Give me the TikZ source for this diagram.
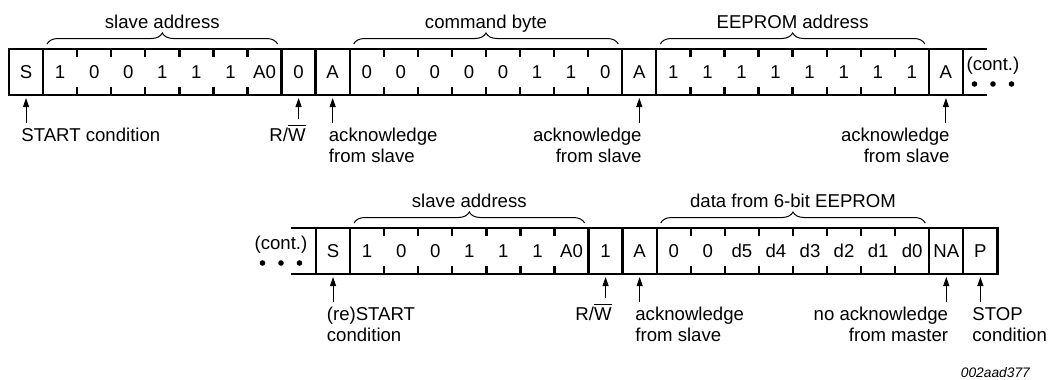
\documentclass[tikz,border=0pt]{standalone}
\usepackage{fontspec}
\setmainfont{Liberation Sans}
\usepackage{tikz}
\usetikzlibrary{arrows.meta,positioning,decorations.pathreplacing,calc}

\begin{document}
\begin{tikzpicture}[x=0.5pt, y=-0.5pt, font=\fontsize{9.3pt}{10.5pt}\selectfont,
    bit/.style={minimum width=17.035pt, minimum height=23pt, inner sep=0pt, outer sep=0pt},
    frame/.style={line width=1.15pt},
    tick/.style={line width=1.15pt},
    brace/.style={decorate, decoration={brace, amplitude=5.5pt}, line width=0.5pt},
    ptr/.style={-{Triangle[length=4.5pt,width=3pt]}, line width=0.5pt, shorten >=1.5pt, shorten <=2.5pt},
    note/.style={inner sep=0pt, align=left}]
    \useasboundingbox (0,0) rectangle (1051,380);

    % Schrittfolge 1: Schreiben
    \foreach \t [count=\k from 0] in {S,1,0,0,1,1,1,A0,0,A,0,0,0,0,0,1,1,0,A,1,1,1,1,1,1,1,1,A}
        \node[bit] (w\k) at ({26.035+34.07*\k}, 72) {\t};
    \draw[frame] ([xshift=12pt]w27.north east) -- (w0.north west) -- (w0.south west) -- ([xshift=12pt]w27.south east);
    \foreach \k in {0,7,8,9,17,18,26,27}
        \draw[frame] (w\k.north east) -- (w\k.south east);
    \foreach \k in {1,2,3,4,5,6,10,11,12,13,14,15,16,19,20,21,22,23,24,25}
        \draw[tick] (w\k.north east) -- ++(0,8) (w\k.south east) -- ++(0,-8);

    % Klammern oben
    \draw[brace] ([xshift=2pt,yshift=2.5pt]w1.north west) -- ([xshift=-2pt,yshift=2.5pt]w7.north east)
        node[midway, anchor=base, yshift=8pt] (hdr_slave1) {slave address};
    \draw[brace] ([xshift=2pt,yshift=2.5pt]w10.north west) -- ([xshift=-2pt,yshift=2.5pt]w17.north east)
        node[midway, anchor=base, yshift=8pt] (hdr_cmd) {command byte};
    \draw[brace] ([xshift=2pt,yshift=2.5pt]w19.north west) -- ([xshift=-2pt,yshift=2.5pt]w26.north east)
        node[midway, anchor=base, yshift=8pt] (hdr_eeaddr) {EEPROM address};

    % Fortsetzung
    \node (cont1) at (993,66) {(cont.)};
    \foreach \dx in {-18.5,0,18.5}
        \fill ($(cont1.center)+(\dx,18)$) circle (2.8);

    % Beschriftungen unten
    \node[note, anchor=north west] (note_start) at (21,128) {START condition};
    \node[note, anchor=base east] (note_rw1) at (306,141) {R/$\overline{\mbox{W}}$};
    \node[note, anchor=north west] (note_ack1) at (328.5,128) {acknowledge\\from slave};
    \node[note, anchor=north east, align=right] (note_ack2) at (642,128) {acknowledge\\from slave};
    \node[note, anchor=north east, align=right] (note_ack3) at (950,128) {acknowledge\\from slave};

    \draw[ptr] (w0.south |- note_start.north) -- (w0.south);
    \draw[ptr] (w8.south |- note_rw1.north) -- (w8.south);
    \draw[ptr] (w9.south |- note_ack1.north) -- (w9.south);
    \draw[ptr] (w18.south |- note_ack2.north) -- (w18.south);
    \draw[ptr] (w27.south |- note_ack3.north) -- (w27.south);

    % Schrittfolge 2: Lesen
    \foreach \t [count=\k from 0] in {S,1,0,0,1,1,1,A0,1,A,0,0,d5,d4,d3,d2,d1,d0,NA,P}
        \node[bit] (r\k) at ({333.035+34.07*\k}, 251) {\t};
    \draw[frame] ([xshift=-12.5pt]r0.north west) -- (r19.north east) -- (r19.south east) -- ([xshift=-12.5pt]r0.south west);
    \draw[frame] (r0.north west) -- (r0.south west);
    \foreach \k in {0,7,8,9,17,18}
        \draw[frame] (r\k.north east) -- (r\k.south east);
    \foreach \k in {1,2,3,4,5,6,10,11,12,13,14,15,16}
        \draw[tick] (r\k.north east) -- ++(0,8) (r\k.south east) -- ++(0,-8);

    \draw[brace] ([xshift=2pt,yshift=2.5pt]r1.north west) -- ([xshift=-2pt,yshift=2.5pt]r7.north east)
        node[midway, anchor=base, yshift=8pt] (hdr_slave2) {slave address};
    \draw[brace] ([xshift=2pt,yshift=2.5pt]r10.north west) -- ([xshift=-2pt,yshift=2.5pt]r17.north east)
        node[midway, anchor=base, yshift=8pt] (hdr_data) {data from 6-bit EEPROM};

    \node (cont2) at (281,245) {(cont.)};
    \foreach \dx in {-18.5,0,18.5}
        \fill ($(cont2.center)+(\dx,18)$) circle (2.8);

    \node[note, anchor=north west] (note_restart) at (326.5,307) {(re)START\\condition};
    \node[note, anchor=base east] (note_rw2) at (612,320) {R/$\overline{\mbox{W}}$};
    \node[note, anchor=north west] (note_ack4) at (635,307) {acknowledge\\from slave};
    \node[note, anchor=north east, align=right] (note_nack) at (948.5,307) {no acknowledge\\from master};
    \node[note, anchor=north west] (note_stop) at (972,307) {STOP\\condition};

    \draw[ptr] (r0.south |- note_restart.north) -- (r0.south);
    \draw[ptr] (r8.south |- note_rw2.north) -- (r8.south);
    \draw[ptr] (r9.south |- note_ack4.north) -- (r9.south);
    \draw[ptr] (r18.south |- note_nack.north) -- (r18.south);
    \draw[ptr] (r19.south |- note_stop.north) -- (r19.south);

    \node[anchor=base east, font=\fontsize{6.9pt}{8pt}\selectfont\itshape] (fig_id) at (1037,377) {002aad377};
\end{tikzpicture}
\end{document}
